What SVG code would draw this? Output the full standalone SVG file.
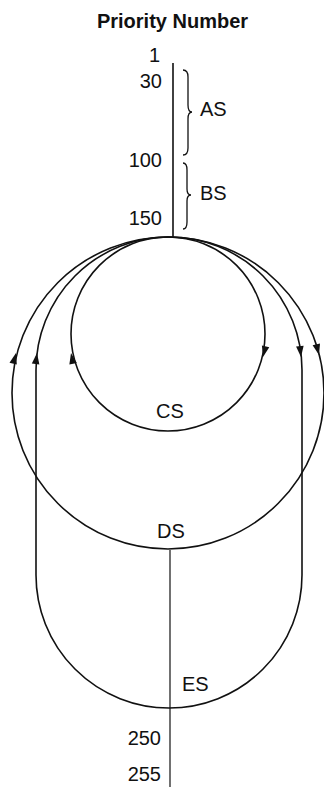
<svg xmlns="http://www.w3.org/2000/svg" width="324" height="787" viewBox="0 0 324 787">
<style>
text{font-family:"Liberation Sans",Arial,sans-serif;font-size:20px;fill:#111}
.title{font-weight:bold;font-size:20px}
.ln{fill:none;stroke:#111;stroke-width:1.6}
.thin{fill:none;stroke:#111;stroke-width:1.2}
.brace{fill:none;stroke:#111;stroke-width:1.3}
.ah{fill:#111}
</style>
<defs>
<polygon id="arrow" class="ah" points="0,0 -11,-3.8 -11,3.8"/>
</defs>
<rect width="324" height="787" fill="#fff"/>
<g id="axis">
<text class="title" x="172.5" y="28" text-anchor="middle">Priority Number</text>
<text x="160" y="62" text-anchor="end">1</text>
<text x="162" y="88" text-anchor="end">30</text>
<text x="162" y="167" text-anchor="end">100</text>
<text x="162" y="225" text-anchor="end">150</text>
<text x="161" y="745" text-anchor="end">250</text>
<text x="161" y="781" text-anchor="end">255</text>
</g>
<g id="AS">
<path class="brace" d="M183,70 Q188,70 188,77 L188,105 Q188,112 192,112 Q188,112 188,119 L188,148 Q188,155 183,155"/>
<text x="200" y="116">AS</text>
</g>
<g id="BS">
<path class="brace" d="M183,163 Q187,163 187,170 L187,189 Q187,195 191,195 Q187,195 187,201 L187,222 Q187,229 183,229"/>
<text x="200" y="200">BS</text>
</g>
<g id="CS">
<circle class="ln" cx="168" cy="334" r="97" stroke-width="2"/>
<text x="170" y="418" text-anchor="middle">CS</text>
</g>
<g id="DS">
<circle class="ln" cx="168" cy="393" r="156"/>
<text x="171" y="538" text-anchor="middle">DS</text>
</g>
<g id="ES">
<path class="ln" d="M36,370 A133,133 0 0 1 302,370 L302,575 A133,133 0 0 1 36,575 Z"/>
<text x="182" y="691">ES</text>
</g>
<g id="connectors">
<line class="ln" x1="173" y1="63" x2="173" y2="237"/>
<line class="thin" x1="170" y1="550" x2="170" y2="787"/>
<use href="#arrow" transform="translate(263,357) rotate(103.6)"/>
<use href="#arrow" transform="translate(71,353) rotate(-101)"/>
<use href="#arrow" transform="translate(319,355) rotate(75.9)"/>
<use href="#arrow" transform="translate(16,353) rotate(-75)"/>
<use href="#arrow" transform="translate(301,357) rotate(84)"/>
<use href="#arrow" transform="translate(37,353) rotate(-82.7)"/>
</g>
</svg>
